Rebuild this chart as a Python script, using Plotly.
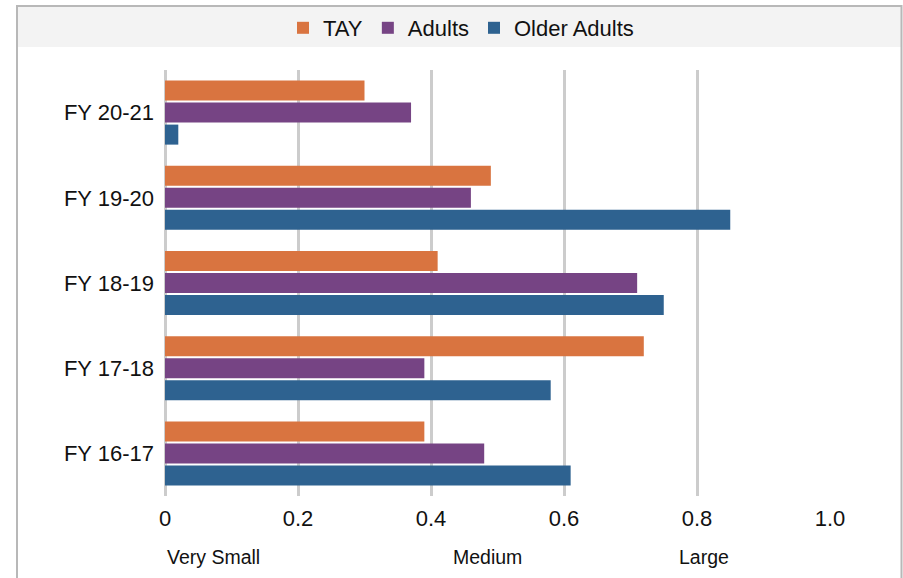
import plotly.graph_objects as go

# Fiscal years, top to bottom
years = ["FY 20-21", "FY 19-20", "FY 18-19", "FY 17-18", "FY 16-17"]

# Effect sizes by age group
tay = [0.30, 0.49, 0.41, 0.72, 0.39]
adults = [0.37, 0.46, 0.71, 0.39, 0.48]
older_adults = [0.02, 0.85, 0.75, 0.58, 0.61]

tick_vals = [0, 0.2, 0.4, 0.6, 0.8, 1.0]
tick_text = ["0", "0.2", "0.4", "0.6", "0.8", "1.0"]

# Effect size bands shown under the axis
band_labels = ["Very Small", "Medium", "Large"]
band_pos = [0.0, 0.485, 0.81]
band_anchor = ["left", "center", "center"]

W, H = 903, 578
ML, MR, MT, MB = 165, 73, 70, 82
PW, PH = W - ML - MR, H - MT - MB


def px_x(px):
    return (px - ML) / PW


def px_y(py):
    return (H - MB - py) / PH


FONT = "Liberation Sans"

fig = go.Figure()
for name, vals, color in [
    ("TAY", tay, "#D97440"),
    ("Adults", adults, "#764484"),
    ("Older Adults", older_adults, "#2E6290"),
]:
    fig.add_trace(go.Bar(
        y=years, x=vals, name=name, orientation="h",
        marker=dict(color=color, line=dict(width=0)),
    ))

shapes = [
    # grey legend band
    dict(type="rect", xref="paper", yref="paper",
         x0=px_x(17), x1=px_x(901), y0=px_y(47), y1=px_y(6),
         fillcolor="#f3f3f3", line=dict(width=0), layer="below"),
    # outer frame: top, left, right
    dict(type="line", xref="paper", yref="paper",
         x0=px_x(16), x1=px_x(902), y0=px_y(6), y1=px_y(6),
         line=dict(color="#b8b8b8", width=2)),
    dict(type="line", xref="paper", yref="paper",
         x0=px_x(17), x1=px_x(17), y0=px_y(5), y1=px_y(580),
         line=dict(color="#b8b8b8", width=2)),
    dict(type="line", xref="paper", yref="paper",
         x0=px_x(901.5), x1=px_x(901.5), y0=px_y(5), y1=px_y(580),
         line=dict(color="#b8b8b8", width=2)),
]

annotations = [
    dict(text=t, x=x, xref="x", y=px_y(557), yref="paper",
         xanchor=a, yanchor="middle", showarrow=False,
         font=dict(family=FONT, size=19.5, color="#111"))
    for t, x, a in zip(band_labels, band_pos, band_anchor)
]

fig.update_layout(
    width=W, height=H,
    margin=dict(l=ML, r=MR, t=MT, b=MB, autoexpand=False),
    paper_bgcolor="white", plot_bgcolor="white",
    barmode="group", bargap=0.225, bargroupgap=0.09,
    font=dict(family=FONT, color="#111"),
    legend=dict(
        orientation="h", x=px_x(461), xanchor="center",
        y=px_y(28), yanchor="middle",
        font=dict(family=FONT, size=22, color="#111"),
        bgcolor="rgba(0,0,0,0)", itemsizing="constant",
    ),
    xaxis=dict(
        range=[0, 1.0], tickvals=tick_vals, ticktext=tick_text,
        showgrid=True, gridcolor="#cccccc", gridwidth=3,
        zeroline=True, zerolinecolor="#cccccc", zerolinewidth=3,
        showline=False, ticks="", ticklabelstandoff=7,
        tickfont=dict(family=FONT, size=22, color="#111"),
    ),
    yaxis=dict(
        autorange="reversed", showgrid=False, zeroline=False,
        showline=False, ticks="", ticklabelstandoff=10,
        tickfont=dict(family=FONT, size=22, color="#111"),
    ),
    shapes=shapes,
    annotations=annotations,
)

fig.write_html("out.html")
